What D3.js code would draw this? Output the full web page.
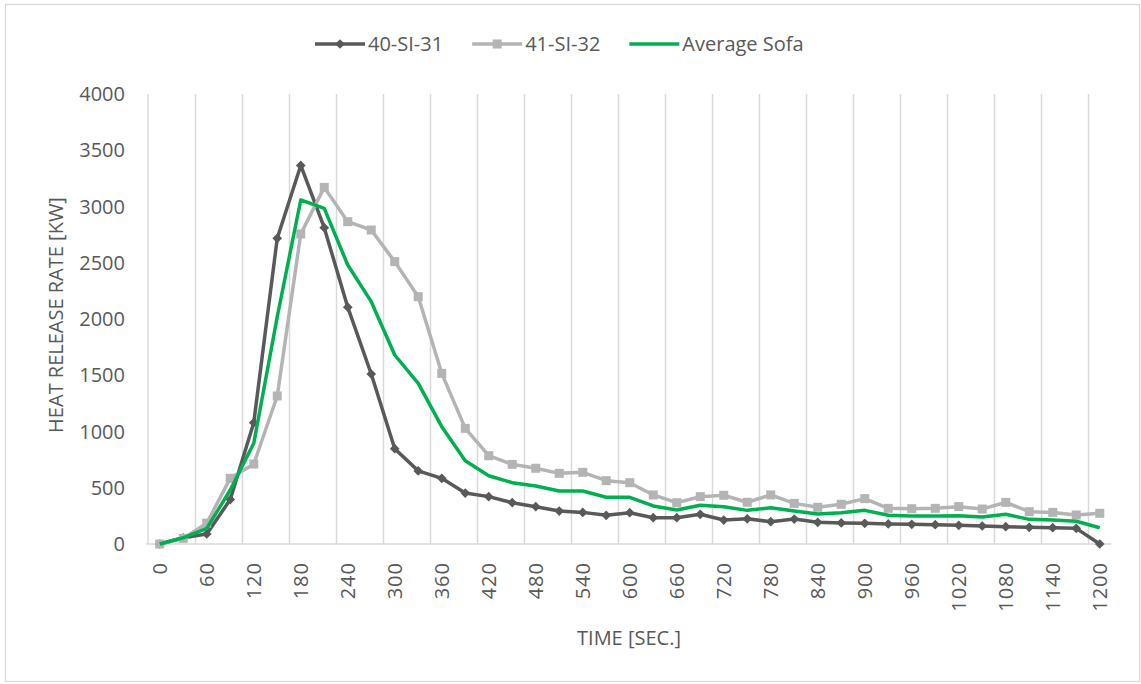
<!DOCTYPE html>
<html>
<head>
<meta charset="utf-8">
<script src="https://cdn.jsdelivr.net/npm/d3@7"></script>
<style>
  html, body { margin: 0; padding: 0; background: #fff; }
  svg { display: block; font-family: "Open Sans", sans-serif; }
</style>
</head>
<body>
<svg id="chart" width="1141" height="684"></svg>
<script>
// ---- DATA ----
const times = [0,30,60,90,120,150,180,210,240,270,300,330,360,390,420,450,480,510,540,570,600,630,660,690,720,750,780,810,840,870,900,930,960,990,1020,1050,1080,1110,1140,1170,1200];
const tickLabels = [0,60,120,180,240,300,360,420,480,540,600,660,720,780,840,900,960,1020,1080,1140,1200];
const yTicks = [0,500,1000,1500,2000,2500,3000,3500,4000];
const seriesNames = ["40-SI-31", "41-SI-32", "Average Sofa"];
const s40 = [0,55,89,395,1078,2717,3365,2812,2105,1511,847,650,584,453,421,367,332,293,281,255,278,234,234,264,213,224,198,222,193,187,184,178,175,172,166,160,154,148,145,139,0];
const s41 = [0,50,185,584,711,1316,2756,3170,2865,2791,2510,2198,1517,1028,785,708,673,628,637,563,545,436,367,421,433,371,436,361,326,353,403,317,314,317,332,311,370,287,281,258,273];
const avg = [0,55,139,480,895,2020,3058,2984,2480,2154,1680,1428,1043,740,607,545,516,471,471,415,415,338,302,344,332,299,323,293,267,278,299,255,249,249,252,240,264,219,213,202,145];

// ---- LAYOUT ----
const svg = d3.select("#chart");
const textColor = "#595959";
const gridColor = "#d9d9d9";
const colors = ["#595959", "#b4b4b4", "#00b050"];
const plot = {left: 148, right: 1111.5, top: 94, bottom: 544};

// chart border
svg.append("rect").attr("x", 5.5).attr("y", 4.5).attr("width", 1134).attr("height", 677)
  .attr("fill", "#fff").attr("stroke", "#d9d9d9").attr("stroke-width", 1.3);

const x = d3.scaleBand().domain(times).range([plot.left, plot.right]).padding(0);
const bw = x.bandwidth();
const cx = t => x(t) + bw / 2;
const y = d3.scaleLinear().domain([0, 4000]).range([plot.bottom, plot.top]);

// vertical gridlines every 2 categories
const gridTimes = times.filter((t, i) => i % 2 === 0 && i > 0);
svg.append("g").selectAll("line").data(gridTimes).join("line")
  .attr("x1", d => Math.round(x(d)) + 0.5).attr("x2", d => Math.round(x(d)) + 0.5)
  .attr("y1", plot.top).attr("y2", plot.bottom)
  .attr("stroke", gridColor).attr("stroke-width", 1.5);

// axis lines
svg.append("line").attr("x1", plot.left).attr("x2", plot.left)
  .attr("y1", plot.top).attr("y2", plot.bottom).attr("stroke", gridColor).attr("stroke-width", 1.5);
svg.append("line").attr("x1", plot.left - 2).attr("x2", plot.right)
  .attr("y1", plot.bottom).attr("y2", plot.bottom).attr("stroke", gridColor).attr("stroke-width", 1.5);

// y tick labels
svg.append("g").selectAll("text").data(yTicks).join("text")
  .attr("x", 125).attr("y", d => y(d) + 7)
  .attr("text-anchor", "end").attr("font-size", 20).attr("fill", textColor)
  .text(d => d);

// x tick labels (rotated)
svg.append("g").selectAll("text").data(tickLabels).join("text")
  .attr("transform", d => `translate(${cx(d) + 7},562) rotate(-90)`)
  .attr("text-anchor", "end").attr("font-size", 20).attr("letter-spacing", 1)
  .attr("fill", textColor).text(d => d);

// axis titles
svg.append("text").attr("transform", `translate(63,315) rotate(-90)`)
  .attr("text-anchor", "middle").attr("font-size", 20).attr("fill", textColor)
  .text("HEAT RELEASE RATE [KW]");
svg.append("text").attr("x", 629).attr("y", 645)
  .attr("text-anchor", "middle").attr("font-size", 20).attr("fill", textColor)
  .text("TIME [SEC.]");

// series lines
const data = [s40, s41, avg];
const line = d3.line().x((d, i) => cx(times[i])).y(d => y(d));
data.forEach((vals, k) => {
  svg.append("path").datum(vals).attr("d", line)
    .attr("fill", "none").attr("stroke", colors[k]).attr("stroke-width", 3.5)
    .attr("stroke-linejoin", "round");
  if (k === 0) {
    svg.append("g").selectAll("path").data(vals).join("path")
      .attr("d", d3.symbol(d3.symbolDiamond2, 60))
      .attr("transform", (d, i) => `translate(${cx(times[i])},${y(d)})`)
      .attr("fill", colors[0]);
  } else if (k === 1) {
    svg.append("g").selectAll("rect").data(vals).join("rect")
      .attr("x", (d, i) => cx(times[i]) - 4.5).attr("y", d => y(d) - 4.5)
      .attr("width", 9).attr("height", 9).attr("fill", colors[1]);
  }
});

// legend
const leg = svg.append("g");
let lx = 315;
const ly = 44;
seriesNames.forEach((name, k) => {
  leg.append("line").attr("x1", lx).attr("x2", lx + 50).attr("y1", ly).attr("y2", ly)
    .attr("stroke", colors[k]).attr("stroke-width", 3.5);
  if (k === 0) {
    leg.append("path").attr("d", d3.symbol(d3.symbolDiamond2, 60))
      .attr("transform", `translate(${lx + 25},${ly})`).attr("fill", colors[0]);
  } else if (k === 1) {
    leg.append("rect").attr("x", lx + 25 - 4.5).attr("y", ly - 4.5)
      .attr("width", 9).attr("height", 9).attr("fill", colors[1]);
  }
  const t = leg.append("text").attr("x", lx + 53).attr("y", ly + 7)
    .attr("font-size", 20).attr("fill", textColor).text(name);
  const w = t.node().getComputedTextLength();
  lx = lx + 53 + w + 29;
});
</script>
</body>
</html>
